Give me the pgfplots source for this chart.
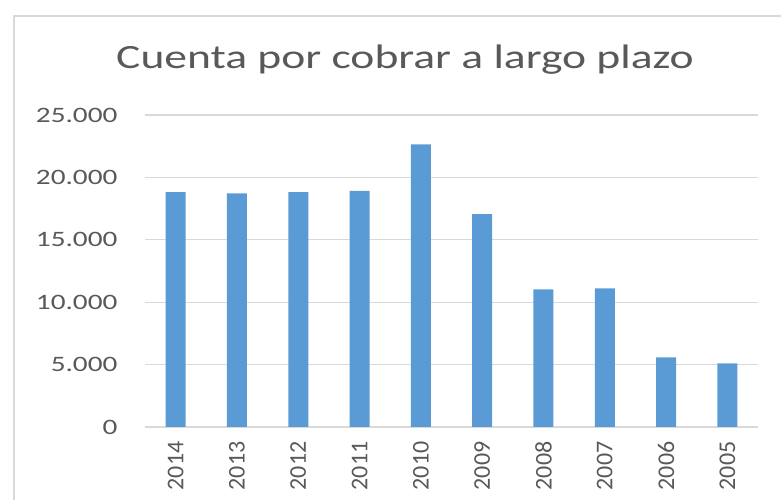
\documentclass[border=0pt]{standalone}
\usepackage{pgfplots}
\pgfplotsset{compat=1.18}
\usepackage{fontspec}
\setmainfont{Carlito}
\definecolor{barblue}{HTML}{5B9BD5}
\definecolor{gridgray}{HTML}{D9D9D9}
\definecolor{txtgray}{HTML}{595959}
\newcommand{\sx}[1]{\scalebox{1.33}[1]{#1}}
\begin{document}
\begin{tikzpicture}[x=1pt,y=1pt]
\useasboundingbox (0,0) rectangle (781,500);
\draw[gridgray, line width=2pt] (14,-20) |- (820,484);
\node[anchor=base, text=txtgray, font=\fontsize{34}{40}\selectfont] at (405,431) {\scalebox{1.34}[1]{Cuenta por cobrar a largo plazo}};
\begin{axis}[
  at={(145pt,73pt)}, anchor=south west,
  scale only axis, width=613pt, height=312pt,
  xmin=-0.5, xmax=9.5, ymin=0, ymax=25000,
  scaled y ticks=false,
  ytick={0,5000,10000,15000,20000,25000},
  yticklabels={\sx{0},\sx{5.000},\sx{10.000},\sx{15.000},\sx{20.000},\sx{25.000}},
  xtick={0,...,9},
  xticklabels={2014,2013,2012,2011,2010,2009,2008,2007,2006,2005},
  axis line style={draw=none},
  major tick length=0pt,
  ymajorgrids, grid style={gridgray, line width=1.2pt},
  yticklabel style={text=txtgray, font=\fontsize{22}{26}\selectfont, anchor=east, xshift=-24pt},
  xticklabel style={text=txtgray, font=\fontsize{24}{28}\selectfont, rotate=90, anchor=east, xshift=-11pt},
]
\addplot[ybar, bar width=20pt, fill=barblue, draw=none] coordinates {
(0,18820) (1,18720) (2,18820) (3,18930) (4,22640) (5,17060) (6,11030) (7,11110) (8,5580) (9,5100)};
\end{axis}
\end{tikzpicture}
\end{document}
